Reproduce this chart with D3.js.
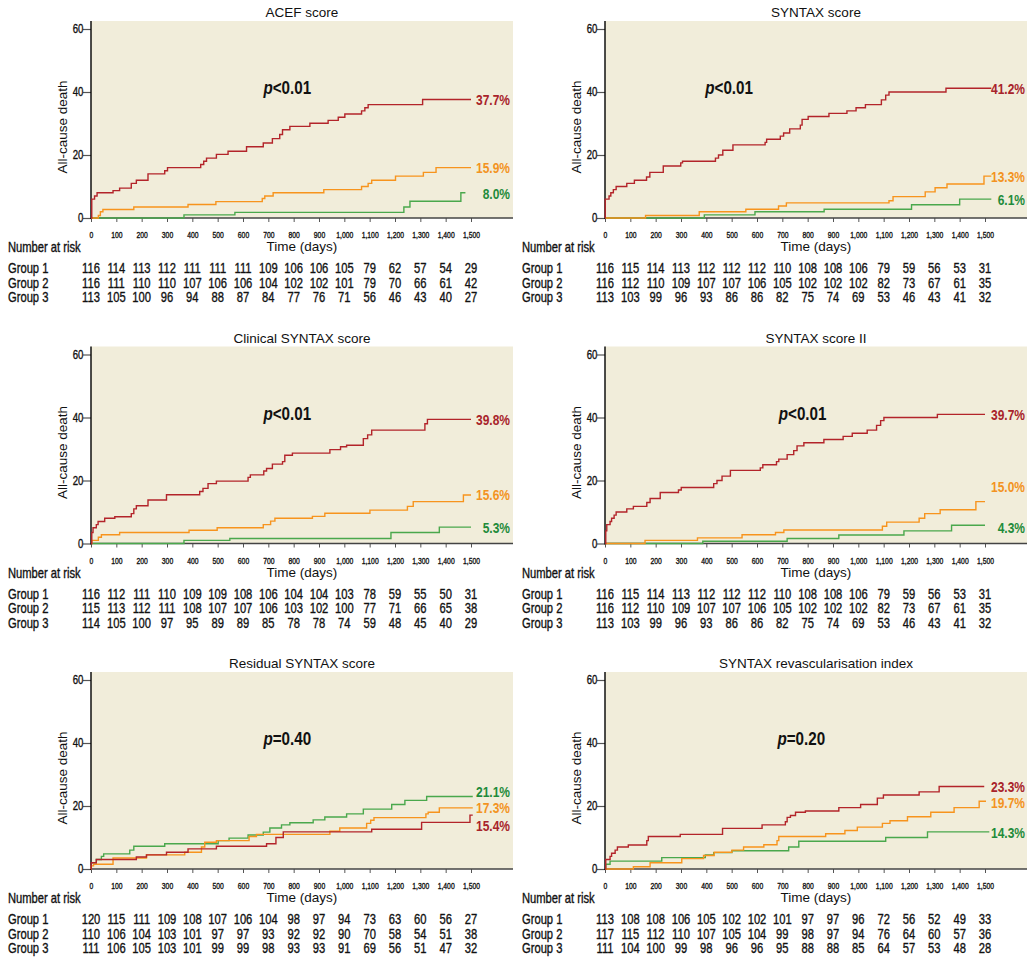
<!DOCTYPE html>
<html>
<head>
<meta charset="utf-8">
<script src="https://cdn.jsdelivr.net/npm/d3@7"></script>
<style>
  body { margin: 0; background: #fff; }
  svg { display: block; }
  text { font-family: "Liberation Sans", Arial, sans-serif; fill: #111; }
  .heavy { stroke: #111; stroke-width: 0.35; }
</style>
</head>
<body>
<svg width="1033" height="969"></svg>
<script>
let width = 1033,
    height = 969;

// ---- data ----
let panelTitles = ["ACEF score", "SYNTAX score", "Clinical SYNTAX score",
    "SYNTAX score II", "Residual SYNTAX score", "SYNTAX revascularisation index"];
let pSigns = ["<", "<", "<", "<", "=", "="];
let pNumbers = ["0.01", "0.01", "0.01", "0.01", "0.40", "0.20"];
let pDay = [775, 490, 775, 780, 775, 775];
let timeTicks = d3.range(0, 1501, 100);
let yTicks = [0, 20, 40, 60];
let groupNames = ["Group 1", "Group 2", "Group 3"];

// end labels, order: red, orange, green
let endLabels = [
    ["37.7%", "15.9%", "8.0%"],
    ["41.2%", "13.3%", "6.1%"],
    ["39.8%", "15.6%", "5.3%"],
    ["39.7%", "15.0%", "4.3%"],
    ["15.4%", "17.3%", "21.1%"],
    ["23.3%", "19.7%", "14.3%"]
];
// value at which each end label sits
let endLabelAt = [
    [37.6, 16, 7.8],
    [41.2, 13.3, 5.9],
    [39.3, 15.4, 5.2],
    [40.8, 18, 5.2],
    [13.8, 19.4, 24.5],
    [26.2, 21, 11.6]
];

// step curves [day, %], red / orange / green
let acefRed = [[0,0],[3,6],[14,7],[24,8],[87,8.7],[113,9.5],[159,11],[179,12],[225,14],[291,15],[302,16],[433,17],[445,18],[456,19],[495,20.2],[541,21.2],[614,22.6],[680,23.8],[716,25.2],[745,26.5],[756,28],[785,29.1],[864,30.1],[936,31],[976,32],[1002,33],[1068,34],[1081,35],[1094,36],[1309,37.6],[1500,37.6]];
let acefOrange = [[0,0],[29,0.8],[37,2],[47,2.7],[169,3.5],[383,4.3],[493,5.2],[676,6.2],[686,7],[719,8],[919,9],[1068,10],[1094,11],[1108,12],[1202,13.3],[1312,14.5],[1362,16],[1500,16]];
let acefGreen = [[0,0],[367,1],[568,1.8],[1235,3.5],[1259,5.3],[1460,8],[1478,8]];

let syntaxRed = [[0,0],[1,6],[16,7],[23,8],[33,9],[44,10],[86,11],[116,12],[164,13],[177,14.5],[230,16.5],[299,17.5],[306,18],[436,19],[448,20],[465,21.5],[505,23.2],[632,24],[638,25],[692,26],[705,27],[729,28.3],[771,29.5],[778,31.3],[802,32.2],[884,33.2],[955,34],[991,35],[1028,36],[1091,37.5],[1108,39],[1121,40],[1346,41.2],[1525,41.2]];
let syntaxOrange = [[0,0],[160,0.8],[372,2],[556,2.8],[685,3.8],[716,4.8],[1121,5.5],[1137,6.8],[1264,8.3],[1303,9.6],[1350,10.8],[1496,13.3],[1525,13.3]];
let syntaxGreen = [[0,0],[392,1],[592,2],[865,2.8],[1210,4.2],[1400,6],[1525,6]];

let clinicalRed = [[0,0],[3,3.5],[8,5],[21,6],[28,7],[54,8],[94,8.5],[159,9.5],[169,11],[179,12],[225,13.8],[298,15.5],[429,16.5],[442,17.5],[462,19],[495,19.8],[620,21],[629,21.8],[682,23],[693,23.8],[716,25.2],[756,26],[765,28],[795,28.7],[943,29.8],[985,30.7],[1009,31.2],[1075,33.3],[1092,34.5],[1108,36],[1318,38],[1328,39.4],[1500,39.4]];
let clinicalOrange = [[0,0],[3,1],[29,2],[41,2.8],[113,3.5],[387,4.2],[498,5],[680,6],[709,7.1],[726,8],[874,8.6],[923,9.6],[1101,10.6],[1249,11.8],[1272,13.3],[1470,15.4],[1500,15.4]];
let clinicalGreen = [[0,0],[367,1],[548,1.6],[1184,3.5],[1375,5.2],[1500,5.2]];

let syntax2Red = [[0,0],[3,4],[7,6],[20,7],[26,8],[36,9],[44,10],[86,11],[112,11.8],[165,13],[178,14.3],[218,16.2],[290,17],[301,17.8],[429,19],[442,20],[462,21.4],[495,23.2],[613,24],[623,25],[677,26],[686,26.8],[719,28.2],[745,29.5],[758,31],[785,32],[864,33],[940,34],[976,35],[1035,36],[1072,37.5],[1088,39],[1101,40],[1312,41],[1500,41]];
let syntax2Orange = [[0,0],[158,1],[365,1.8],[541,2.8],[673,3.5],[706,4.3],[1095,5.5],[1112,6.8],[1240,8],[1262,9.5],[1323,10.7],[1464,13.3],[1500,13.3]];
let syntax2Green = [[0,0],[386,0.7],[719,1.6],[923,2.7],[1180,4],[1368,5.8],[1500,5.8]];

let residualRed = [[0,0],[1,2],[21,3],[179,3.8],[219,4.5],[298,5.3],[383,6.4],[495,7.2],[693,8],[730,10],[759,11.8],[1108,12.6],[1305,14.8],[1496,17.1],[1507,17.1]];
let residualOrange = [[0,0],[1,1],[10,1.5],[87,3.5],[219,4.5],[370,5.3],[436,7],[449,8.5],[495,9],[624,10.3],[653,11],[943,12],[982,13],[1088,14.5],[1104,15.5],[1117,16.3],[1322,17.5],[1331,18],[1375,19.4],[1507,19.4]];
let residualGreen = [[0,2],[21,3],[41,4],[50,4.8],[153,6],[169,7.2],[291,8],[502,9],[545,9.8],[620,10.8],[680,11.7],[706,13],[752,14],[785,14.7],[877,15.6],[923,16.5],[1009,17.5],[1075,19],[1187,20.5],[1239,21.8],[1325,23],[1507,23]];

let sriRed = [[0,0],[3,3],[20,4],[26,5],[40,6],[49,7],[92,7.6],[165,9],[171,10.3],[297,11],[464,12.9],[620,14],[712,15],[719,16.4],[732,17],[752,18],[791,18.4],[923,19.5],[1009,20.5],[1075,22.5],[1099,23.5],[1240,24.5],[1319,26.2],[1497,26.2]];
let sriOrange = [[0,0],[112,0.7],[178,2],[303,3.3],[389,4.3],[431,5.3],[501,6],[547,7],[627,7.7],[679,9],[686,10.3],[871,11.2],[947,12.2],[996,13.3],[1095,14.5],[1125,15.3],[1194,16.6],[1286,18],[1378,19.5],[1477,21.5],[1504,21.5]];
let sriGreen = [[0,0],[3,1.5],[20,2.5],[224,3.6],[396,4.5],[429,5.2],[501,5.8],[725,7],[765,8.8],[1108,10],[1273,11.8],[1517,11.8]];

let panelCurves = [
    [acefRed, acefOrange, acefGreen],
    [syntaxRed, syntaxOrange, syntaxGreen],
    [clinicalRed, clinicalOrange, clinicalGreen],
    [syntax2Red, syntax2Orange, syntax2Green],
    [residualRed, residualOrange, residualGreen],
    [sriRed, sriOrange, sriGreen]
];

// number at risk, rows Group 1..3
let acefRisk = [
    [116,114,113,112,111,111,111,109,106,106,105,79,62,57,54,29],
    [116,111,110,110,107,106,106,104,102,102,101,79,70,66,61,42],
    [113,105,100,96,94,88,87,84,77,76,71,56,46,43,40,27]
];
let syntaxRisk = [
    [116,115,114,113,112,112,112,110,108,108,106,79,59,56,53,31],
    [116,112,110,109,107,107,106,105,102,102,102,82,73,67,61,35],
    [113,103,99,96,93,86,86,82,75,74,69,53,46,43,41,32]
];
let clinicalRisk = [
    [116,112,111,110,109,109,108,106,104,104,103,78,59,55,50,31],
    [115,113,112,111,108,107,107,106,103,102,100,77,71,66,65,38],
    [114,105,100,97,95,89,89,85,78,78,74,59,48,45,40,29]
];
let syntax2Risk = [
    [116,115,114,113,112,112,112,110,108,108,106,79,59,56,53,31],
    [116,112,110,109,107,107,106,105,102,102,102,82,73,67,61,35],
    [113,103,99,96,93,86,86,82,75,74,69,53,46,43,41,32]
];
let residualRisk = [
    [120,115,111,109,108,107,106,104,98,97,94,73,63,60,56,27],
    [110,106,104,103,101,97,97,93,92,92,90,70,58,54,51,38],
    [111,106,105,103,101,99,99,98,93,93,91,69,56,51,47,32]
];
let sriRisk = [
    [113,108,108,106,105,102,102,101,97,97,96,72,56,52,49,33],
    [117,115,112,110,107,105,104,99,98,97,94,76,64,60,57,36],
    [111,104,100,99,98,96,96,95,88,88,85,64,57,53,48,28]
];
let panelRisk = [acefRisk, syntaxRisk, clinicalRisk, syntax2Risk, residualRisk, sriRisk];

// ---- styles ----
let lineColors = ["#b3242a", "#f7941d", "#4aa84c"],
    labelColors = ["#a8232a", "#f39322", "#1f8b3b"],
    bgColor = "#f1edda",
    squeeze = 0.8;

let colOffsets = [0, 514],
    rowOffsets = [0, 325.5, 651];

let svg = d3.select("svg");

// condensed text: horizontal squeeze of Liberation Sans
let narrow = (g, x, y) => g.append("text")
    .attr("transform", `translate(${x},${y}) scale(${squeeze},1)`);

let drawPanel = (i) => {
    let cx = colOffsets[i % 2],
        cy = rowOffsets[Math.floor(i / 2)];

    let x = d3.scaleLinear().domain([0, 1500]).range([cx + 91, cx + 471]);
    let y = d3.scaleLinear().domain([0, 60]).range([cy + 218, cy + 29]);

    let g = svg.append("g");

    g.append("rect")
        .attr("x", x(0))
        .attr("y", cy + 21)
        .attr("width", cx + 513 - x(0))
        .attr("height", y(0) - (cy + 21))
        .attr("fill", bgColor);

    g.append("text")
        .attr("x", cx + 302)
        .attr("y", cy + 17)
        .attr("text-anchor", "middle")
        .attr("font-size", 13.5)
        .text(panelTitles[i]);

    // axes
    let xAxis = g.append("g")
        .attr("transform", `translate(0,${y(0)})`)
        .call(d3.axisBottom(x).tickValues(timeTicks).tickFormat(d3.format(",")).tickSize(4).tickPadding(10));
    xAxis.select(".domain").remove();
    xAxis.selectAll("line").attr("stroke", "#555");
    xAxis.selectAll("text")
        .attr("font-family", null)
        .attr("font-size", 8.5)
        .attr("fill", "#111")
        .attr("class", "heavy")
        .attr("transform", `scale(${squeeze},1)`);

    let yAxis = g.append("g")
        .attr("transform", `translate(${x(0)},0)`)
        .call(d3.axisLeft(y).tickValues(yTicks).tickSize(8).tickPadding(1.5));
    yAxis.select(".domain").remove();
    yAxis.selectAll("line").attr("stroke", "#555").attr("stroke-width", 1.2);
    yAxis.selectAll("text")
        .attr("font-family", null)
        .attr("font-size", 12)
        .attr("fill", "#111")
        .attr("class", "heavy")
        .attr("transform", `scale(${squeeze},1)`);

    g.append("line")
        .attr("x1", x(0)).attr("x2", cx + 513)
        .attr("y1", y(0)).attr("y2", y(0))
        .attr("stroke", "#444").attr("stroke-width", 1.4);
    g.append("line")
        .attr("x1", x(0)).attr("x2", x(0))
        .attr("y1", cy + 21).attr("y2", y(0) + 1)
        .attr("stroke", "#000").attr("stroke-width", 1.4);

    g.append("text")
        .attr("transform", `translate(${cx + 67},${cy + 127}) rotate(-90)`)
        .attr("text-anchor", "middle")
        .attr("font-size", 13.5)
        .text("All-cause death");

    // curves
    let line = d3.line()
        .x(d => x(d[0]))
        .y(d => y(d[1]))
        .curve(d3.curveStepAfter);

    [2, 1, 0].forEach(k => {
        g.append("path")
            .datum(panelCurves[i][k])
            .attr("d", line)
            .attr("fill", "none")
            .attr("stroke", lineColors[k])
            .attr("stroke-width", 1.4);
    });

    endLabels[i].forEach((d, k) => {
        narrow(g, cx + 510 + (i % 2), y(endLabelAt[i][k]))
            .attr("dy", "0.36em")
            .attr("text-anchor", "end")
            .attr("font-size", 15)
            .attr("font-weight", "bold")
            .style("fill", labelColors[k])
            .text(d);
    });

    let p = narrow(g, x(pDay[i]), y(41.5))
        .attr("dy", "0.36em")
        .attr("text-anchor", "middle")
        .attr("font-size", 19)
        .attr("font-weight", "bold");
    p.append("tspan").attr("font-style", "italic").text("p");
    p.append("tspan").text(pSigns[i] + pNumbers[i]);

    // number at risk table
    g.append("text")
        .attr("x", cx + 302)
        .attr("y", cy + 251)
        .attr("text-anchor", "middle")
        .attr("font-size", 13.5)
        .text("Time (days)");

    narrow(g, cx + 8, cy + 252)
        .attr("class", "heavy")
        .attr("font-size", 14)
        .text("Number at risk");

    panelRisk[i].forEach((row, r) => {
        let by = cy + 273 + r * 14.7;
        narrow(g, cx + 8, by)
            .attr("class", "heavy")
            .attr("font-size", 14)
            .text(groupNames[r]);
        row.forEach((d, j) => {
            narrow(g, x(timeTicks[j]), by)
                .attr("class", "heavy")
                .attr("text-anchor", "middle")
                .attr("font-size", 14)
                .text(d);
        });
    });
};

d3.range(6).forEach(drawPanel);
</script>
</body>
</html>
